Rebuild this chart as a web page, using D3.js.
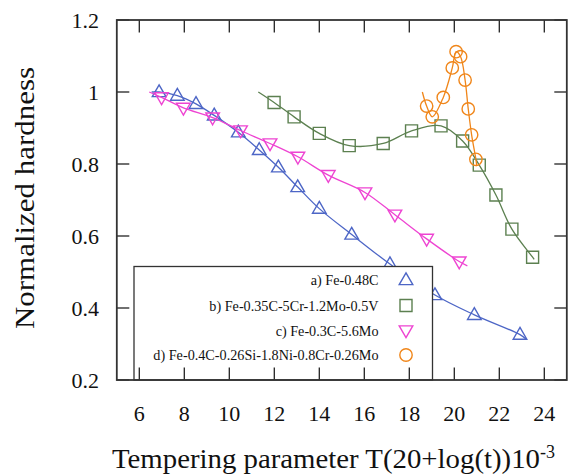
<!DOCTYPE html>
<html><head><meta charset="utf-8">
<script src="https://cdnjs.cloudflare.com/ajax/libs/d3/7.8.5/d3.min.js"></script>
<style>body{margin:0;background:#fff}svg{display:block}</style>
</head><body>
<script>
// ---- data ----
const xTicks = [6, 8, 10, 12, 14, 16, 18, 20, 22, 24];
const yTicks = [0.2, 0.4, 0.6, 0.8, 1.0, 1.2];
const yTickLabels = ["0.2", "0.4", "0.6", "0.8", "1", "1.2"];

const aX = [6.88, 7.69, 8.52, 9.33, 10.4, 11.33, 12.18, 13.04, 14.0, 15.44, 17.14, 19.14, 20.89, 22.92];
const aY = [1.0, 0.99, 0.967, 0.935, 0.888, 0.839, 0.791, 0.736, 0.676, 0.604, 0.522, 0.436, 0.381, 0.326];
const bX = [11.99, 12.88, 14.0, 15.33, 16.84, 18.1, 19.41, 20.37, 21.11, 21.85, 22.56, 23.48];
const bY = [0.971, 0.931, 0.885, 0.851, 0.857, 0.892, 0.906, 0.864, 0.797, 0.714, 0.619, 0.541];
const cX = [6.99, 7.96, 9.26, 10.5, 11.81, 13.05, 14.4, 16.03, 17.36, 18.77, 20.22];
const cY = [0.985, 0.956, 0.929, 0.893, 0.857, 0.82, 0.769, 0.721, 0.659, 0.592, 0.529];
const dX = [18.77, 19.02, 19.51, 19.91, 20.08, 20.28, 20.48, 20.62, 20.77, 20.96];
const dY = [0.961, 0.931, 0.985, 1.067, 1.112, 1.098, 1.033, 0.953, 0.881, 0.813];

// fitted-curve end points (where the drawn lines start / stop)
const aLineEnds = [[6.55, 1.0], [23.2, 0.313]];
const bLineEnds = [[11.29, 1.0], [23.55, 0.535]];
const cLineEnds = [[6.44, 1.0], [20.58, 0.517]];
const dLineEnds = [[18.58, 1.0], [21.0, 0.794]];

const labels = ["a) Fe-0.48C", "b) Fe-0.35C-5Cr-1.2Mo-0.5V", "c) Fe-0.3C-5.6Mo", "d) Fe-0.4C-0.26Si-1.8Ni-0.8Cr-0.26Mo"];
const colors = ["#4d66c6", "#5c8050", "#ee44d2", "#f0861a"];
const symbols = ["up", "square", "down", "circle"];

// ---- layout ----
const W = 573, H = 476;
const m = {l: 116.8, r: 566.8, t: 20, b: 380};
const FONT = "'Liberation Serif', 'DejaVu Serif', serif";

const x = d3.scaleLinear().domain([5, 25]).range([m.l, m.r]);
const y = d3.scaleLinear().domain([0.2, 1.2]).range([m.b, m.t]);

const svg = d3.select("body").append("svg").attr("width", W).attr("height", H);

// ticks (inward, all four sides)
const TL = 12.5;
const tickG = svg.append("g").attr("stroke", "#222").attr("stroke-width", 1.3);
xTicks.forEach(t => {
  tickG.append("line").attr("x1", x(t)).attr("x2", x(t)).attr("y1", m.b).attr("y2", m.b - TL);
  tickG.append("line").attr("x1", x(t)).attr("x2", x(t)).attr("y1", m.t).attr("y2", m.t + TL);
});
yTicks.forEach(t => {
  tickG.append("line").attr("y1", y(t)).attr("y2", y(t)).attr("x1", m.l).attr("x2", m.l + TL);
  tickG.append("line").attr("y1", y(t)).attr("y2", y(t)).attr("x1", m.r).attr("x2", m.r - TL);
});

// tick labels
svg.append("g").selectAll("text").data(xTicks).join("text")
  .attr("x", d => x(d)).attr("y", 421).attr("text-anchor", "middle")
  .attr("font-family", FONT).attr("font-size", 22).attr("fill", "#111").text(d => d);
svg.append("g").selectAll("text").data(yTicks).join("text")
  .attr("x", 99).attr("y", d => y(d) + 7.5).attr("text-anchor", "end")
  .attr("font-family", FONT).attr("font-size", 22).attr("fill", "#111").text((d, i) => yTickLabels[i]);

// axis titles
svg.append("text").attr("transform", `translate(34,${(m.t + m.b) / 2 - 2}) rotate(-90)`)
  .attr("text-anchor", "middle").attr("font-family", FONT).attr("font-size", 27).attr("fill", "#111")
  .attr("textLength", 262).attr("lengthAdjust", "spacingAndGlyphs")
  .text("Normalized hardness");
const xt = svg.append("text").attr("x", 112).attr("y", 468).attr("text-anchor", "start")
  .attr("font-family", FONT).attr("font-size", 27).attr("fill", "#111");
xt.append("tspan").attr("textLength", 428).attr("lengthAdjust", "spacingAndGlyphs")
  .text("Tempering parameter T(20+log(t))10");
xt.append("tspan").attr("dy", -10).attr("font-size", 18).text("-3");

// series
const series = [
  {xs: aX, ys: aY, ends: aLineEnds},
  {xs: bX, ys: bY, ends: bLineEnds},
  {xs: cX, ys: cY, ends: cLineEnds},
  {xs: dX, ys: dY, ends: dLineEnds}
];

function symPath(type) {
  if (type === "up") return "M0,-7.2L6.8,4.6L-6.8,4.6Z";
  if (type === "down") return "M0,7.2L6.8,-4.6L-6.8,-4.6Z";
  if (type === "square") return "M-6,-6H6V6H-6Z";
  return d3.symbol(d3.symbolCircle, Math.PI * 6.2 * 6.2)();
}

const line = d3.line().x(d => x(d[0])).y(d => y(d[1])).curve(d3.curveCatmullRom.alpha(0.5));

series.forEach((s, i) => {
  const pts = s.xs.map((v, j) => [v, s.ys[j]]);
  const linePts = [s.ends[0], ...pts, s.ends[1]];
  svg.append("path").attr("d", line(linePts)).attr("fill", "none")
    .attr("stroke", colors[i]).attr("stroke-width", 1.3);
  svg.append("g").selectAll("path").data(pts).join("path")
    .attr("transform", d => `translate(${x(d[0])},${y(d[1])})`)
    .attr("d", symPath(symbols[i])).attr("fill", "none")
    .attr("stroke", colors[i]).attr("stroke-width", 1.4);
});

// legend
const lg = svg.append("g");
lg.append("rect").attr("x", 134).attr("y", 266.5).attr("width", 298.5).attr("height", m.b - 266.5)
  .attr("fill", "#fff").attr("stroke", "#333").attr("stroke-width", 1.3);
const rowY = [280, 305.5, 330.5, 355];
labels.forEach((lab, i) => {
  lg.append("text").attr("x", 378.5).attr("y", rowY[i] + 5).attr("text-anchor", "end")
    .attr("font-family", FONT).attr("font-size", 14.2).attr("fill", "#111").text(lab);
  lg.append("path").attr("transform", `translate(406,${rowY[i]})`).attr("d", symPath(symbols[i]))
    .attr("fill", "none").attr("stroke", colors[i]).attr("stroke-width", 1.4);
});
// re-draw bottom ticks over legend
xTicks.forEach(t => {
  if (x(t) > 134 && x(t) < 432.5)
    lg.append("line").attr("x1", x(t)).attr("x2", x(t)).attr("y1", m.b).attr("y2", m.b - TL)
      .attr("stroke", "#222").attr("stroke-width", 1.3);
});

// frame
svg.append("rect").attr("x", m.l).attr("y", m.t).attr("width", m.r - m.l).attr("height", m.b - m.t)
  .attr("fill", "none").attr("stroke", "#333").attr("stroke-width", 1.8);
</script>
</body></html>
